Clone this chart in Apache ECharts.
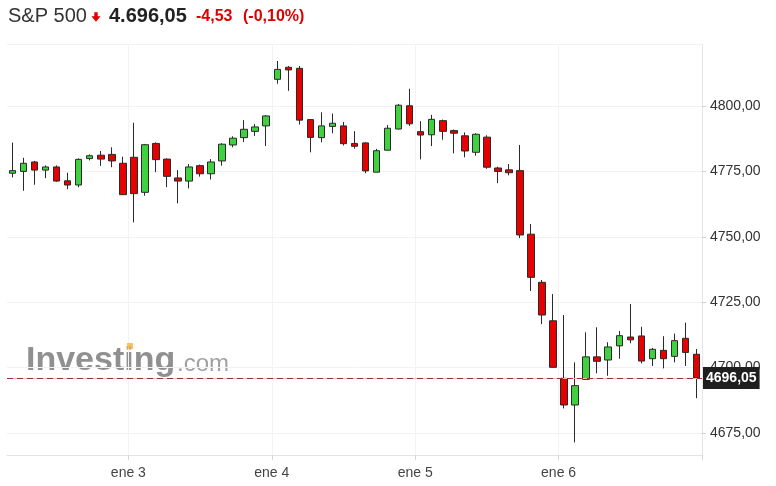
<!DOCTYPE html>
<html>
<head>
<meta charset="utf-8">
<script src="https://cdn.jsdelivr.net/npm/echarts@6/dist/echarts.min.js"></script>
<style>
html,body{margin:0;padding:0;background:#fff;}
#chart{width:776px;height:486px;}
</style>
</head>
<body>
<div id="chart"></div>
<script>
// 30-minute candles: Dec 31 (partial) and Jan 3-6
const categories = [
  '12-31 10:30','12-31 11:00','12-31 11:30','12-31 12:00','12-31 12:30','12-31 13:00','12-31 13:30','12-31 14:00','12-31 14:30','12-31 15:00','12-31 15:30',
  '01-03 09:30','01-03 10:00','01-03 10:30','01-03 11:00','01-03 11:30','01-03 12:00','01-03 12:30','01-03 13:00','01-03 13:30','01-03 14:00','01-03 14:30','01-03 15:00','01-03 15:30',
  '01-04 09:30','01-04 10:00','01-04 10:30','01-04 11:00','01-04 11:30','01-04 12:00','01-04 12:30','01-04 13:00','01-04 13:30','01-04 14:00','01-04 14:30','01-04 15:00','01-04 15:30',
  '01-05 09:30','01-05 10:00','01-05 10:30','01-05 11:00','01-05 11:30','01-05 12:00','01-05 12:30','01-05 13:00','01-05 13:30','01-05 14:00','01-05 14:30','01-05 15:00','01-05 15:30',
  '01-06 09:30','01-06 10:00','01-06 10:30','01-06 11:00','01-06 11:30','01-06 12:00','01-06 12:30','01-06 13:00','01-06 13:30','01-06 14:00','01-06 14:30','01-06 15:00','01-06 15:30'
];
const opens = [
  4774.3,4775.0,4778.6,4775.5,4776.7,4771.4,4769.8,4779.9,4781.2,4781.5,4778.1,
  4780.4,4767.0,4785.7,4779.7,4772.5,4771.3,4777.2,4774.1,4779.0,4785.1,4787.9,4790.3,4792.4,
  4810.2,4814.8,4814.4,4794.8,4787.9,4792.2,4792.4,4785.7,4785.9,4774.7,4783.1,4791.2,4800.1,
  4790.2,4789.0,4794.4,4790.6,4788.6,4782.3,4788.1,4776.3,4775.6,4775.3,4751.0,4732.6,4717.9,
  4695.9,4685.7,4695.5,4704.1,4702.9,4708.3,4711.7,4712.1,4703.4,4706.6,4704.3,4711.2,4705.1
];
const closes = [
  4775.3,4778.1,4775.5,4776.7,4771.3,4769.8,4779.6,4781.0,4779.7,4779.0,4766.1,
  4766.5,4785.2,4779.5,4773.1,4771.3,4776.7,4774.1,4778.6,4785.4,4787.7,4791.1,4792.0,4796.2,
  4814.0,4813.8,4794.6,4788.0,4792.4,4793.4,4785.6,4784.6,4775.2,4782.9,4791.5,4800.3,4793.2,
  4788.9,4794.9,4790.3,4789.6,4782.8,4789.2,4776.6,4775.0,4774.5,4750.7,4734.5,4720.1,4700.1,
  4685.7,4693.1,4704.1,4702.4,4707.9,4712.2,4710.6,4702.5,4707.0,4703.4,4710.3,4705.8,4696.05
];
const lows = [
  4772.7,4767.6,4769.9,4772.4,4771.0,4768.2,4768.9,4779.2,4777.1,4776.6,4766.0,
  4755.5,4765.7,4774.7,4769.0,4762.8,4768.5,4773.0,4771.9,4777.2,4784.2,4786.2,4788.6,4784.7,
  4808.5,4805.8,4792.9,4782.3,4786.1,4789.6,4784.9,4783.7,4774.3,4774.7,4783.0,4791.0,4792.4,
  4779.6,4784.7,4787.1,4781.9,4780.4,4781.0,4776.0,4770.5,4773.5,4749.5,4729.3,4716.6,4700.0,
  4684.4,4671.4,4695.3,4697.8,4696.9,4703.4,4709.3,4701.6,4700.6,4699.7,4702.0,4700.6,4688.3
];
const highs = [
  4786.0,4780.2,4779.0,4777.3,4777.3,4774.5,4780.0,4781.5,4782.8,4784.2,4780.6,
  4793.6,4785.5,4786.1,4780.0,4775.5,4777.8,4777.6,4779.7,4785.8,4788.4,4794.6,4793.1,4796.5,
  4817.2,4815.3,4815.3,4795.0,4797.6,4797.1,4793.9,4790.4,4786.1,4783.6,4792.7,4800.8,4806.6,
  4794.2,4796.6,4794.8,4791.0,4789.9,4789.6,4788.8,4776.8,4777.8,4785.1,4754.9,4733.5,4728.1,
  4720.1,4702.0,4713.5,4715.4,4709.7,4714.0,4724.3,4715.6,4707.5,4712.0,4713.0,4717.2,4707.1
];
const xTickCategories = ['01-03 09:30','01-04 09:30','01-05 09:30','01-06 09:30'];
const xTickLabels = ['ene 3','ene 4','ene 5','ene 6'];
const yMin = 4666.59, yMax = 4823.7;
const lastPrice = 4696.05;
const titleName = 'S&P 500';
const titlePrice = '4.696,05';
const titleChange = '-4,53';
const titlePct = '(-0,10%)';

const ohlc = opens.map((o, i) => [o, closes[i], lows[i], highs[i]]);
const isDayStart = (idx, val) => xTickCategories.indexOf(val !== undefined ? val : categories[idx]) >= 0;
const fmt = v => v.toFixed(2).replace('.', ',');
const FONT = 'Arial, "Liberation Sans", sans-serif';

const chart = echarts.init(document.getElementById('chart'), null, {renderer: 'canvas'});
chart.setOption({
  animation: false,
  backgroundColor: '#ffffff',
  grid: {left: 7, right: 74, top: 44, bottom: 31, containLabel: false},
  xAxis: {
    type: 'category',
    data: categories,
    boundaryGap: true,
    axisLine: {show: true, lineStyle: {color: '#e3e3e3', width: 1}},
    axisTick: {show: true, length: 5, interval: (i, v) => isDayStart(i, v), lineStyle: {color: '#d8d8d8'}},
    splitLine: {show: true, interval: (i, v) => isDayStart(i, v), lineStyle: {color: '#f3f3f3', width: 1}},
    axisLabel: {
      interval: (i, v) => isDayStart(i, v),
      formatter: v => { const k = xTickCategories.indexOf(v); return k >= 0 ? xTickLabels[k] : ''; },
      color: '#444', fontSize: 14, fontFamily: FONT, margin: 11, padding: [0, 11, 0, 0]
    }
  },
  yAxis: {
    type: 'value',
    position: 'right',
    min: yMin, max: yMax,
    minInterval: 25, maxInterval: 25, splitNumber: 6,
    axisLine: {show: true, lineStyle: {color: '#e6e6e6', width: 1}},
    axisTick: {show: true, length: 4, lineStyle: {color: '#cfcfcf'}},
    splitLine: {show: true, lineStyle: {color: '#f2f2f2', width: 1}},
    axisLabel: {
      showMinLabel: false, showMaxLabel: false,
      formatter: v => fmt(v),
      color: '#333', fontSize: 14, fontFamily: FONT, margin: 8
    }
  },
  graphic: [
    {type: 'text', z: 0, silent: true, style: {text: 'Investing', x: 26, y: 344, verticalAlign: 'top', font: 'bold 34px ' + FONT, fill: 'rgba(125,125,125,0.85)'}},
    {type: 'rect', z: 1, silent: true, shape: {x: 127, y: 343, width: 6, height: 6}, style: {fill: 'rgba(245,180,60,0.8)'}},
    {type: 'text', z: 0, silent: true, style: {text: '.com', x: 177, y: 352, verticalAlign: 'top', font: '24px ' + FONT, fill: 'rgba(145,145,145,0.85)'}},
    {type: 'text', style: {text: titleName, x: 8, y: 6, verticalAlign: 'top', font: '20px ' + FONT, fill: '#333'}},
    {type: 'polygon', shape: {points: [[94.3,12.3],[97.7,12.3],[97.7,16.3],[100.6,16.3],[96,21.8],[91.4,16.3],[94.3,16.3]]}, style: {fill: '#e00000'}},
    {type: 'text', style: {text: titlePrice, x: 109, y: 6, verticalAlign: 'top', font: 'bold 20px ' + FONT, fill: '#222'}},
    {type: 'text', style: {text: titleChange, x: 196, y: 9, verticalAlign: 'top', font: 'bold 16px ' + FONT, fill: '#e00000'}},
    {type: 'text', style: {text: titlePct, x: 243, y: 9, verticalAlign: 'top', font: 'bold 16px ' + FONT, fill: '#e00000'}}
  ],
  series: [{
    type: 'candlestick',
    data: ohlc,
    barWidth: 7,
    z: 3,
    itemStyle: {
      color: '#3fd13f', color0: '#e60000',
      borderColor: '#2a2a2a', borderColor0: '#2a2a2a', borderWidth: 1
    },
    markLine: {
      silent: true,
      symbol: ['none', 'none'],
      animation: false,
      data: [
        {yAxis: lastPrice, lineStyle: {color: '#f2b8b8', type: 'solid', width: 1}, label: {show: false}},
        {yAxis: lastPrice, lineStyle: {color: '#9a3030', type: [6, 4], width: 1},
          label: {show: true, position: 'end', distance: 1, formatter: p => fmt(p.value),
            backgroundColor: '#1f1f1f', color: '#fff', fontWeight: 'bold', fontSize: 14, fontFamily: FONT,
            padding: [4, 3, 4, 3], lineHeight: 14}}
      ]
    }
  }]
});
</script>
</body>
</html>
